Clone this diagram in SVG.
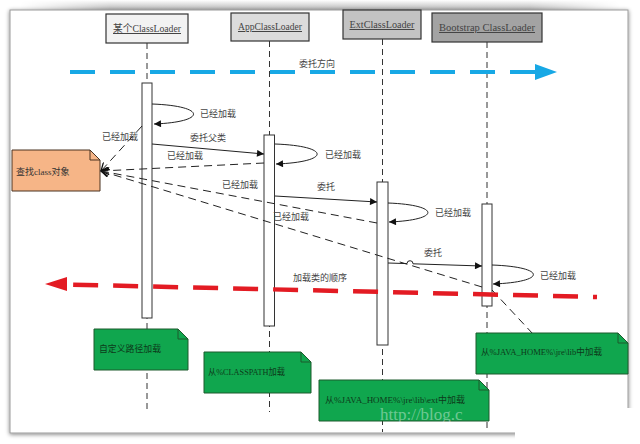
<svg xmlns="http://www.w3.org/2000/svg" width="640" height="444" viewBox="0 0 640 444">
<style>
.lbl{font-family:"Liberation Serif","Noto Sans CJK SC",serif;font-size:9px;fill:#444}
.hd{font-family:"Liberation Serif","Noto Sans CJK SC",serif;font-size:10px;fill:#444;text-decoration:underline}
.nt{font-family:"Liberation Serif","Noto Sans CJK SC",serif;font-size:9px;fill:#0d3a1a}
.head{stroke:#333;stroke-width:1.2}
.life{stroke:#333;stroke-width:1;stroke-dasharray:6 4;fill:none}
.act{fill:#fff;stroke:#333;stroke-width:1}
.msg{stroke:#222;stroke-width:1;fill:none}
.ret{stroke:#222;stroke-width:1;fill:none;stroke-dasharray:8 5}
.gnote{fill:#10a64e;stroke:#1c5a2c;stroke-width:1}
</style>
<defs>
<marker id="fa" viewBox="0 0 10 10" refX="10" refY="5" markerWidth="8" markerHeight="7" markerUnits="userSpaceOnUse" orient="auto">
<path d="M0,0 L10,5 L0,10 z" fill="#111"/>
</marker>
<marker id="oa" viewBox="0 0 10 10" refX="10" refY="5" markerWidth="9" markerHeight="8" markerUnits="userSpaceOnUse" orient="auto">
<path d="M0,0 L10,5 L0,10" fill="none" stroke="#111" stroke-width="1.6" stroke-dasharray="none"/>
</marker>
<linearGradient id="topg" x1="0" y1="0" x2="0" y2="1">
<stop offset="0" stop-color="#ffffff"/>
<stop offset="1" stop-color="#b5b5b5"/>
</linearGradient>
<linearGradient id="fadeh" x1="0" y1="0" x2="1" y2="0">
<stop offset="0" stop-color="#fff" stop-opacity="0"/>
<stop offset="0.15" stop-color="#fff" stop-opacity="1"/>
<stop offset="0.85" stop-color="#fff" stop-opacity="1"/>
<stop offset="1" stop-color="#fff" stop-opacity="0"/>
</linearGradient>
<mask id="topm"><rect x="20" y="0" width="600" height="10" fill="url(#fadeh)"/></mask>
<filter id="sh" x="-5%" y="-5%" width="110%" height="110%">
<feGaussianBlur in="SourceAlpha" stdDeviation="2"/>
<feOffset dx="0" dy="1"/>
<feComponentTransfer><feFuncA type="linear" slope="0.5"/></feComponentTransfer>
<feMerge><feMergeNode/><feMergeNode in="SourceGraphic"/></feMerge>
</filter>
</defs>
<rect width="640" height="444" fill="#fff"/>
<rect x="20" y="0" width="600" height="10" fill="url(#topg)" mask="url(#topm)"/>
<rect x="10" y="10" width="618" height="423" fill="#fff" stroke="#9a9a9a" stroke-width="1" filter="url(#sh)"/>

<g id="lifelines">
<line class="life" x1="147" y1="43" x2="147" y2="412"/>
<line class="life" x1="269.5" y1="41" x2="269.5" y2="412"/>
<line class="life" x1="382.5" y1="39" x2="382.5" y2="432"/>
<line class="life" x1="487" y1="42" x2="487" y2="432"/>
</g>

<g id="head-custom"><rect class="head" x="106" y="14" width="82" height="29" fill="#f2f2f2"/><text class="hd" x="147" y="32" text-anchor="middle" textLength="68" lengthAdjust="spacingAndGlyphs">某个ClassLoader</text></g>
<g id="head-app"><rect class="head" x="231" y="13" width="78" height="28" fill="#dcdcdc"/><text class="hd" x="270" y="30" text-anchor="middle" textLength="64" lengthAdjust="spacingAndGlyphs">AppClassLoader</text></g>
<g id="head-ext"><rect class="head" x="343" y="10" width="78" height="29" fill="#c3c3c3"/><text class="hd" x="382" y="28" text-anchor="middle" textLength="65" lengthAdjust="spacingAndGlyphs">ExtClassLoader</text></g>
<g id="head-boot"><rect class="head" x="432" y="13" width="110" height="29" fill="#a3a3a3"/><text class="hd" x="487" y="31" text-anchor="middle" textLength="96" lengthAdjust="spacingAndGlyphs">Bootstrap ClassLoader</text></g>

<g id="direction">
<line x1="70" y1="72" x2="536" y2="72" stroke="#17a8e5" stroke-width="4" stroke-dasharray="25 15"/>
<polygon points="557,72 535,64 535,80" fill="#17a8e5"/>
<text class="lbl" x="317" y="67" text-anchor="middle">委托方向</text>
</g>

<g id="act-custom"><rect class="act" x="142" y="83" width="10" height="235"/></g>
<g id="act-app"><rect class="act" x="264" y="135" width="10.5" height="191"/></g>
<g id="act-ext"><rect class="act" x="377" y="182" width="11" height="163"/></g>
<g id="act-boot"><rect class="act" x="482" y="204" width="10" height="102"/></g>

<g id="find-note">
<path d="M12,150 H90 L100,160 V191 H12 Z" fill="#f6b587" stroke="#4a3320" stroke-width="1"/>
<path d="M90,150 V160 H100" fill="none" stroke="#4a3320" stroke-width="1"/>
<text class="lbl" x="16" y="175" style="fill:#333">查找class对象</text>
</g>

<g id="connectors">
<path class="msg" d="M152,104 C207,106 207,122 154,124" marker-end="url(#fa)"/>
<path class="msg" d="M275,144 C331,146 331,162 276,164" marker-end="url(#fa)"/>
<path class="msg" d="M388,203 C441,205 441,220 389,222" marker-end="url(#fa)"/>
<path class="msg" d="M492,265 C547,267 547,282 493,284" marker-end="url(#fa)"/>
<path class="msg" d="M152,144 L264,154" marker-end="url(#fa)"/>
<path class="msg" d="M275,196 L377,202" marker-end="url(#fa)"/>
<path class="msg" d="M388,263 L407,263.6 A3,3 0 0 1 413,263.8 L482,266" marker-end="url(#fa)"/>
<path class="ret" d="M142,126 L101,171" marker-end="url(#oa)"/>
<path class="ret" d="M264,163 L101,171" marker-end="url(#oa)"/>
<path class="ret" d="M377,223 L101,171" marker-end="url(#oa)"/>
<path class="ret" d="M482,287 L101,171" marker-end="url(#oa)"/>
<path class="ret" d="M492,290 L533,334"/>
</g>

<g id="labels">
<text class="lbl" x="200" y="117">已经加载</text>
<text class="lbl" x="120" y="140" text-anchor="middle">已经加载</text>
<text class="lbl" x="208" y="141" text-anchor="middle">委托父类</text>
<text class="lbl" x="185" y="159" text-anchor="middle">已经加载</text>
<text class="lbl" x="325" y="158">已经加载</text>
<text class="lbl" x="240" y="188" text-anchor="middle">已经加载</text>
<text class="lbl" x="326" y="190" text-anchor="middle">委托</text>
<text class="lbl" x="435" y="216">已经加载</text>
<text class="lbl" x="291" y="220" text-anchor="middle">已经加载</text>
<text class="lbl" x="433" y="256" text-anchor="middle">委托</text>
<text class="lbl" x="540" y="279">已经加载</text>
<text class="lbl" x="320" y="281" text-anchor="middle">加载类的顺序</text>
</g>

<g id="order">
<line x1="597" y1="297" x2="66" y2="284.5" stroke="#e31b23" stroke-width="4.5" stroke-dasharray="25 15" stroke-dashoffset="21"/>
<polygon points="45,284 67,277 67,291" fill="#e31b23"/>
</g>

<g id="note-custom"><path class="gnote" d="M94,329 H178 L188,339 V370 H94 Z"/><path d="M178,329 V339 H188" fill="none" stroke="#1c5a2c"/><text class="nt" x="99" y="352" textLength="62" lengthAdjust="spacingAndGlyphs">自定义路径加载</text></g>
<g id="note-app"><path class="gnote" d="M204,352 H301 L311,362 V393 H204 Z"/><path d="M301,352 V362 H311" fill="none" stroke="#1c5a2c"/><text class="nt" x="208" y="375" textLength="77" lengthAdjust="spacingAndGlyphs">从%CLASSPATH加载</text></g>
<g id="note-ext"><path class="gnote" d="M319,380 H479 L489,390 V421 H319 Z"/><path d="M479,380 V390 H489" fill="none" stroke="#1c5a2c"/><text class="nt" x="325" y="403" textLength="140" lengthAdjust="spacingAndGlyphs">从%JAVA_HOME%\jre\lib\ext中加载</text></g>
<g id="note-boot"><path class="gnote" d="M476,333 H618 L628,343 V374 H476 Z"/><path d="M618,333 V343 H628" fill="none" stroke="#1c5a2c"/><text class="nt" x="481" y="355" textLength="121" lengthAdjust="spacingAndGlyphs">从%JAVA_HOME%\jre\lib中加载</text></g>

<text x="380" y="420" font-family="Liberation Serif, serif" font-size="17" fill="#fff" fill-opacity="0.4">http://blog.c</text>
<rect x="515" y="408" width="125" height="36" fill="#fff"/>
</svg>
